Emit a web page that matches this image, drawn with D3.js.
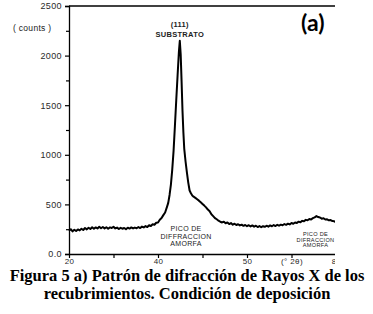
<!DOCTYPE html>
<html>
<head>
<meta charset="utf-8">
<script src="https://cdn.jsdelivr.net/npm/d3@7"></script>
<style>
  body { margin: 0; background: #fff; }
  svg { display: block; }
  .tick text { font-family: "Liberation Sans", Arial, sans-serif; font-size: 9px; fill: #2a2a2a; letter-spacing: 0.4px; }
  .x-axis .tick text { font-size: 8px; }
  .note { font-family: "Liberation Sans", Arial, sans-serif; fill: #222; }
  .caption { font-family: "Liberation Serif", "Times New Roman", serif; font-weight: bold; font-size: 16.5px; fill: #000; }
</style>
</head>
<body>
<div class="chart"></div>
<script>
// XRD scan: [2theta (deg), counts]
const scan = [
  [20.0,235],[20.4,250],[20.8,228],[21.2,245],[21.6,232],[22.0,248],[22.4,238],[22.8,255],
  [23.2,242],[23.6,262],[24.0,248],[24.4,265],[24.8,252],[25.2,270],[25.6,255],[26.0,268],
  [26.4,258],[26.8,275],[27.2,260],[27.6,272],[28.0,258],[28.4,270],[28.8,255],[29.2,268],
  [29.6,262],[30.0,275],[30.4,258],[30.8,266],[31.2,252],[31.6,264],[32.0,255],[32.4,262],
  [32.8,250],[33.2,265],[33.6,256],[34.0,268],[34.4,258],[34.8,266],[35.2,260],[35.6,272],
  [36.0,262],[36.4,276],[36.8,268],[37.2,282],[37.6,272],[38.0,290],[38.4,282],[38.8,300],
  [39.2,295],[39.6,315],[40.0,318],[40.4,345],[40.8,362],[41.2,392],[41.6,418],[42.0,472],
  [42.3,515],[42.6,595],[42.9,700],[43.2,850],[43.5,1040],[43.8,1290],[44.1,1550],[44.4,1800],
  [44.7,2040],[44.9,2150],[45.1,2010],[45.3,1740],[45.5,1450],[45.7,1230],[45.9,1060],[46.2,930],
  [46.5,820],[46.8,720],[47.1,640],[47.4,612],[47.7,590],[48.0,578],[48.4,566],[48.8,552],
  [49.2,538],[49.6,522],[50.0,505],[50.4,488],[50.8,470],[51.2,448],[51.6,432],[52.0,400],
  [52.4,382],[52.8,362],[53.2,350],[53.6,336],[54.0,325],[54.4,318],[54.8,326],[55.2,310],
  [55.6,318],[56.0,302],[56.4,312],[56.8,296],[57.2,305],[57.6,292],[58.0,300],[58.4,288],
  [58.8,296],[59.2,284],[59.6,292],[60.0,280],[60.4,290],[60.8,278],[61.2,288],[61.6,276],
  [62.0,285],[62.4,272],[62.8,282],[63.2,270],[63.6,280],[64.0,274],[64.4,285],[64.8,276],
  [65.2,288],[65.6,280],[66.0,292],[66.4,282],[66.8,294],[67.2,285],[67.6,296],[68.0,290],
  [68.4,302],[68.8,294],[69.2,306],[69.6,298],[70.0,312],[70.4,305],[70.8,318],[71.2,312],
  [71.6,326],[72.0,320],[72.4,334],[72.8,330],[73.2,344],[73.6,340],[74.0,352],[74.4,348],
  [74.8,362],[75.2,370],[75.6,382],[76.0,372],[76.4,368],[76.8,356],[77.2,360],[77.6,348],
  [78.0,350],[78.4,340],[78.8,342],[79.2,332],[79.6,330],[80.0,318]
];

const yMajor = [0, 500, 1000, 1500, 2000, 2500];
const yMajorLabels = ["0.0", "500", "1000", "1500", "2000", "2500"];
const yMinor = [250, 750, 1250, 1750, 2250];
const xTicks = [20, 30, 40, 50, 60, 70, 80];
const xTickLabels = ["20", "", "40", "", "50", "(\u00b0 2\u03b8)", "80"];

const notes = [
  {x: 44.9, y: 2290, lines: ["(111)", "SUBSTRATO"], size: 7.5, gap: 10, bold: true},
  {x: 46.3, y: 230, lines: ["PICO  DE", "DIFFRACCION", "AMORFA"], size: 7, gap: 7.5, bold: false},
  {x: 75.4, y: 180, lines: ["PICO  DE", "DIFRACCION", "AMORFA"], size: 5.6, gap: 5.6, bold: false}
];

const captionLines = [
  "Figura 5 a) Patr\u00f3n de difracci\u00f3n de Rayos X de los",
  "recubrimientos. Condici\u00f3n de deposici\u00f3n"
];

const W = 373, H = 314;
const margin = {top: 6, left: 69};
const plotW = 267, plotH = 248;

const svg = d3.select(".chart").append("svg")
    .attr("width", W)
    .attr("height", H);

svg.append("clipPath").attr("id", "cut")
  .append("rect").attr("x", 0).attr("y", 0).attr("width", 335).attr("height", 272);

const g = svg.append("g").attr("clip-path", "url(#cut)")
  .append("g")
    .attr("transform", "translate(" + margin.left + "," + margin.top + ")");

const x = d3.scaleLinear().domain([20, 80]).range([0, plotW]);
const y = d3.scaleLinear().domain([0, 2500]).range([plotH, 0]);

// y axis minor + major
g.append("g")
    .attr("class", "axis y-minor")
    .call(d3.axisLeft(y).tickValues(yMinor).tickSize(3).tickFormat(""))
    .call(a => a.select(".domain").remove());

g.append("g")
    .attr("class", "axis y-axis")
    .call(d3.axisLeft(y).tickValues(yMajor).tickSize(4).tickPadding(3)
      .tickFormat((d, i) => yMajorLabels[i]))
    .call(a => a.select(".domain").attr("stroke-width", 1.3));

g.append("g")
    .attr("class", "axis x-axis")
    .attr("transform", "translate(0," + plotH + ")")
    .call(d3.axisBottom(x).tickValues(xTicks).tickSize(4).tickSizeOuter(0).tickPadding(0)
      .tickFormat((d, i) => xTickLabels[i]))
    .call(a => a.select(".domain").attr("stroke-width", 1.3));

// top frame line
g.append("line")
    .attr("x1", 0).attr("x2", plotW)
    .attr("y1", y(2500)).attr("y2", y(2500))
    .attr("stroke", "#000").attr("stroke-width", 1.3);

g.selectAll(".tick line").attr("stroke", "#000").attr("stroke-width", 1.2);

// scan
const line = d3.line().x(d => x(d[0])).y(d => y(d[1]));
g.append("path")
    .datum(scan)
    .attr("fill", "none")
    .attr("stroke", "#000")
    .attr("stroke-width", 2)
    .attr("stroke-linejoin", "round")
    .attr("d", line);

// annotations
notes.forEach(n => {
  const t = g.append("text")
      .attr("class", "note")
      .attr("text-anchor", "middle")
      .attr("font-size", n.size + "px")
      .attr("font-weight", n.bold ? "bold" : "normal")
      .attr("letter-spacing", "0.3px");
  n.lines.forEach((s, i) => {
    t.append("tspan")
      .attr("x", x(n.x))
      .attr("y", y(n.y) + i * n.gap)
      .text(s);
  });
});

// y axis title
svg.append("text")
    .attr("class", "note")
    .attr("x", 13).attr("y", 31)
    .attr("font-size", "8.5px")
    .attr("letter-spacing", "0.3px")
    .text("( counts )");

// panel tag
svg.append("text")
    .attr("x", 301).attr("y", 31)
    .attr("font-family", "Lato, 'Open Sans', sans-serif")
    .attr("font-weight", "bold")
    .attr("font-size", "23px")
    .attr("fill", "#000")
    .text("(a)");

// caption
svg.selectAll(".caption")
  .data(captionLines)
  .enter()
  .append("text")
    .attr("class", "caption")
    .attr("text-anchor", "middle")
    .attr("x", 187)
    .attr("y", (d, i) => 281 + i * 18)
    .text(d => d);
</script>
</body>
</html>
